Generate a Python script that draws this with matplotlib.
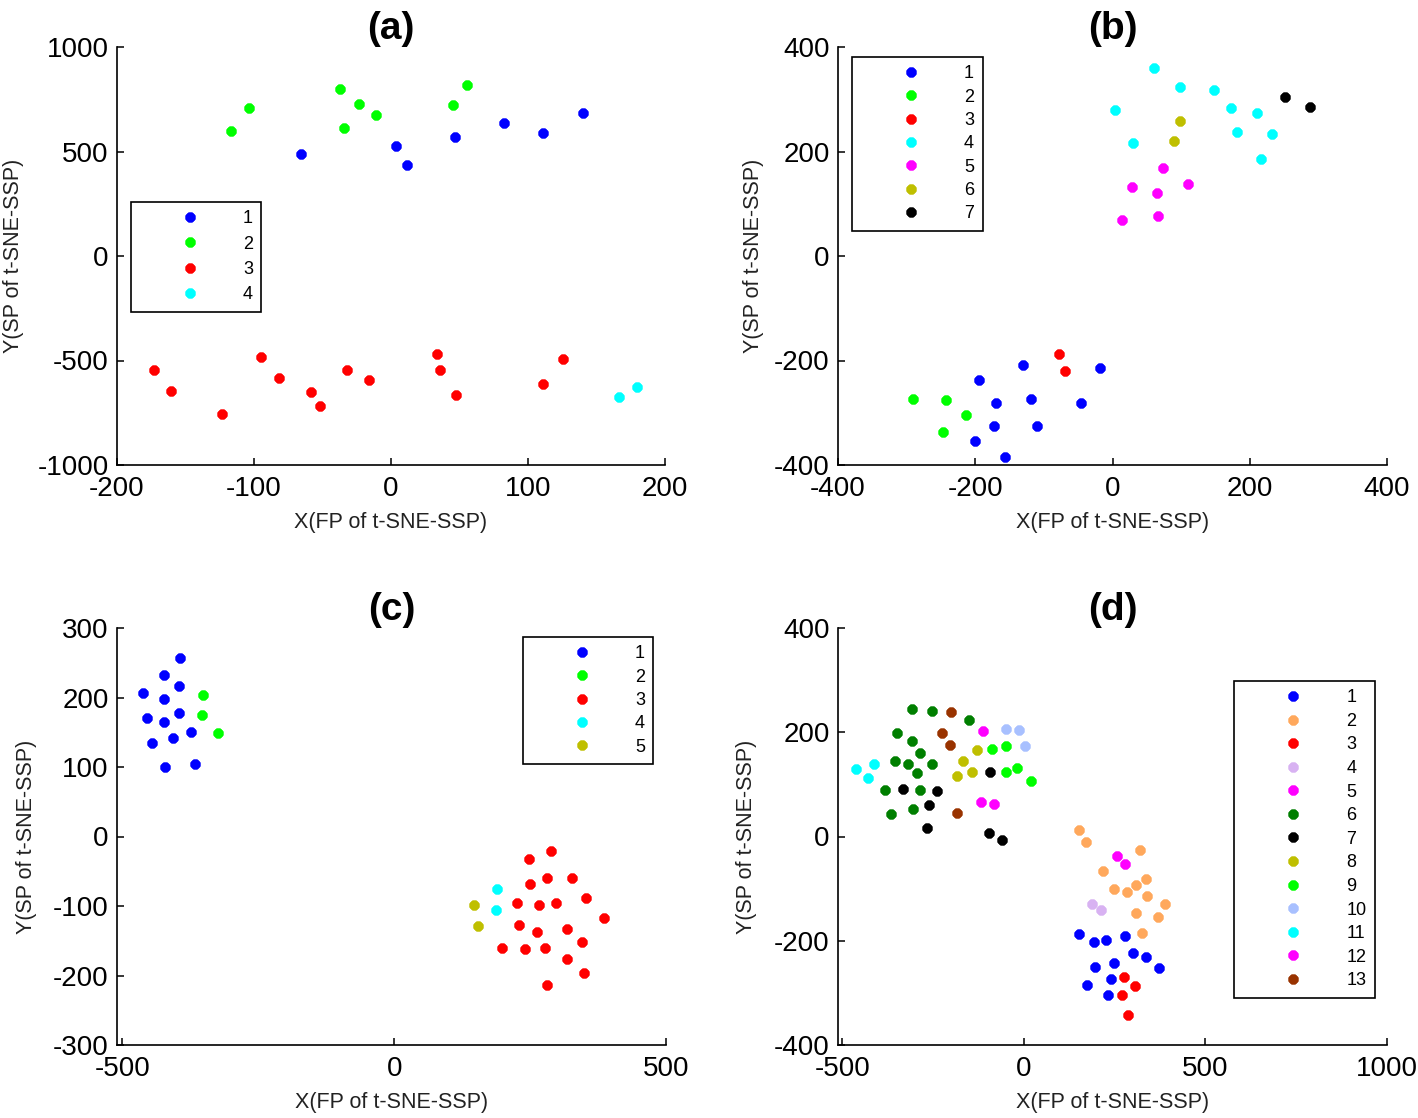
import numpy as np
import matplotlib
matplotlib.use("Agg")
import matplotlib.pyplot as plt

plt.rcParams['font.family'] = ['Liberation Sans', 'DejaVu Sans']
plt.rcParams['axes.unicode_minus'] = False

# ---- panel (a) ----
a_x = [
    [-65.7, 3.7, 11.8, 46.6, 82.7, 110.7, 139.8],
    [-116.8, -103.9, -36.9, -23.0, -11.3, -34.3, 45.5, 55.8],
    [-173.0, -160.7, -123.0, -95.0, -82.0, -58.1, -51.8, -32.2, -16.0, 33.5, 35.9, 47.6, 110.7, 125.7],
    [166.5, 179.3],
]
a_y = [
    [487, 527, 434, 571, 637, 590, 683],
    [598, 708, 799, 729, 675, 611, 723, 820],
    [-547, -645, -756, -482, -586, -651, -716, -547, -594, -469, -547, -665, -611, -495],
    [-676, -625],
]
a_colors = ['#0000FF', '#00FF00', '#FF0000', '#00FFFF']

# ---- panel (b) ----
b_x = [
    [-194.8, -131.1, -17.8, -170.2, -119.1, -45.4, -172.8, -110.7, -200.5, -156.1],
    [-290.3, -242.3, -214.1, -247.0],
    [-77.3, -69.0],
    [60.0, 97.7, 147.8, 4.2, 173.4, 209.9, 181.7, 232.9, 30.3, 215.7],
    [74.2, 28.2, 64.2, 110.2, 14.1, 66.3],
    [97.7, 89.8],
    [251.7, 287.2],
]
b_y = [
    [-237, -208, -214, -281, -274, -281, -325, -325, -355, -385],
    [-274, -276, -305, -336],
    [-188, -221],
    [359, 323, 318, 279, 284, 274, 237, 234, 216, 185],
    [169, 133, 120, 138, 68, 76],
    [258, 221],
    [304, 286],
]
b_colors = ['#0000FF', '#00FF00', '#FF0000', '#00FFFF', '#FF00FF', '#BFBF00', '#000000']

# ---- panel (c) ----
c_x = [
    [-393.7, -424.1, -396.4, -461.7, -424.1, -454.5, -424.1, -396.4, -373.3, -406.3, -446.5, -421.5, -366.7],
    [-351.5, -353.5, -323.8],
    [288.8, 247.9, 280.2, 326.4, 250.5, 353.5, 225.4, 265.7, 298.0, 386.5,
     230.0, 262.4, 317.8, 346.2, 198.3, 240.6, 278.2, 317.8, 348.8, 280.2],
    [189.8, 187.1],
    [147.5, 154.8],
]
c_y = [
    [257, 232, 216, 206, 198, 171, 165, 177, 151, 142, 135, 100, 104],
    [204, 175, 149],
    [-21, -33, -59, -59, -69, -88, -96, -99, -96, -117,
     -127, -137, -133, -152, -160, -162, -160, -176, -197, -213],
    [-76, -106],
    [-99, -129],
]
c_colors = ['#0000FF', '#00FF00', '#FF0000', '#00FFFF', '#BFBF00']

# ---- panel (d) ----
d_x = [
    [150.4, 191.8, 226.3, 279.6, 301.3, 335.9, 373.4, 249.0, 196.7, 240.2, 174.0, 230.3],
    [150.4, 170.0, 319.1, 218.4, 334.9, 309.2, 248.0, 282.6, 339.8, 388.2, 309.2, 369.4, 324.0],
    [274.7, 306.3, 269.8, 286.5],
    [187.9, 213.5],
    [256.9, 279.6],
    [-309.5, -252.3, -150.6, -350.0, -309.5, -286.8, -354.0, -320.4, -252.3, -293.7, -383.5, -286.8, -365.8, -305.6],
    [-94.4, -332.2, -240.4, -260.2, -267.1, -97.4, -60.8],
    [-128.0, -166.4, -143.7, -184.2],
    [-86.5, -49.0, -18.4, -49.0, 19.1],
    [-49.0, -14.5, 4.3],
    [-462.5, -414.1, -429.0],
    [-113.1, -117.1, -82.5],
    [-200.0, -225.6, -204.0, -184.2],
]
d_y = [
    [-188, -203, -198, -190, -224, -232, -253, -242, -251, -274, -285, -305],
    [13, -10, -26, -67, -81, -94, -101, -107, -115, -130, -146, -154, -185],
    [-269, -287, -305, -342],
    [-130, -141],
    [-38, -52],
    [244, 241, 223, 199, 184, 160, 145, 139, 139, 121, 90, 90, 43, 53],
    [123, 92, 87, 61, 16, 6, -7],
    [166, 145, 123, 116],
    [168, 173, 132, 123, 107],
    [207, 205, 173],
    [129, 139, 113],
    [202, 67, 63],
    [238, 199, 175, 45],
]
d_colors = ['#0000FF', '#FFA85C', '#FF0000', '#D8B2F2', '#FF00FF', '#007F00', '#000000',
            '#BFBF00', '#00FF00', '#A8C0FF', '#00FFFF', '#FF00FF', '#993300']

panels = [
    dict(xs=a_x, ys=a_y, colors=a_colors, title='(a)', xlim=(-200, 200), ylim=(-1000, 1000),
         xticks=[-200, -100, 0, 100, 200], yticks=[-1000, -500, 0, 500, 1000],
         rect=[117, 47, 665, 465], leg=(0.0255, 0.629), lspace=0.46, tpad=6, ylx=-0.17),
    dict(xs=b_x, ys=b_y, colors=b_colors, title='(b)', xlim=(-400, 400), ylim=(-400, 400),
         xticks=[-400, -200, 0, 200, 400], yticks=[-400, -200, 0, 200, 400],
         rect=[838, 47, 1387, 465], leg=(0.0255, 0.976), lspace=0.35, tpad=6, ylx=-0.135),
    dict(xs=c_x, ys=c_y, colors=c_colors, title='(c)', xlim=(-510, 500), ylim=(-300, 300),
         xticks=[-500, 0, 500], yticks=[-300, -200, -100, 0, 100, 200, 300],
         rect=[117, 628, 666, 1045], leg=(0.7395, 0.978), lspace=0.35, tpad=1.5, ylx=-0.146),
    dict(xs=d_x, ys=d_y, colors=d_colors, title='(d)', xlim=(-512, 1000), ylim=(-400, 400),
         xticks=[-500, 0, 500, 1000], yticks=[-400, -200, 0, 200, 400],
         rect=[838, 628, 1387, 1045], leg=(0.722, 0.873), lspace=0.365, tpad=1.5, ylx=-0.147),
]

W, H = 1418, 1118
fig = plt.figure(figsize=(W / 100, H / 100), dpi=100)

for p in panels:
    l, t, r, b = p['rect']
    ax = fig.add_axes([l / W, 1 - b / H, (r - l) / W, (b - t) / H])
    for i, (gx, gy) in enumerate(zip(p['xs'], p['ys'])):
        ax.plot(gx, gy, ls='none', marker=(8, 2, 0), ms=7, mew=2.8,
                color=p['colors'][i], label=str(i + 1))
    ax.set_xlim(*p['xlim'])
    ax.set_ylim(*p['ylim'])
    ax.set_xticks(p['xticks'])
    ax.set_yticks(p['yticks'])
    ax.tick_params(direction='in', length=5, width=1.1, labelsize=20, pad=8)
    ax.tick_params(axis='y', pad=6)
    ax.spines['top'].set_visible(False)
    ax.spines['right'].set_visible(False)
    for s in ('left', 'bottom'):
        ax.spines[s].set_linewidth(1.2)
    ax.set_title(p['title'], fontsize=28, fontweight='bold', pad=p['tpad'])
    ax.set_xlabel('X(FP of t-SNE-SSP)', fontsize=15.5, color='#222222')
    ax.set_ylabel('Y(SP of t-SNE-SSP)', fontsize=15.5, color='#222222')
    ax.xaxis.set_label_coords(0.5, -0.113)
    ax.yaxis.set_label_coords(p['ylx'], 0.5)
    leg = ax.legend(loc='upper left', bbox_to_anchor=p['leg'], borderaxespad=0,
                    numpoints=1, fontsize=13, handlelength=5.6, handletextpad=0.15,
                    borderpad=0.46, labelspacing=p['lspace'], fancybox=False,
                    framealpha=1, edgecolor='black')
    leg.get_frame().set_linewidth(1.2)

fig.savefig('out.png', dpi=100, facecolor='white')
